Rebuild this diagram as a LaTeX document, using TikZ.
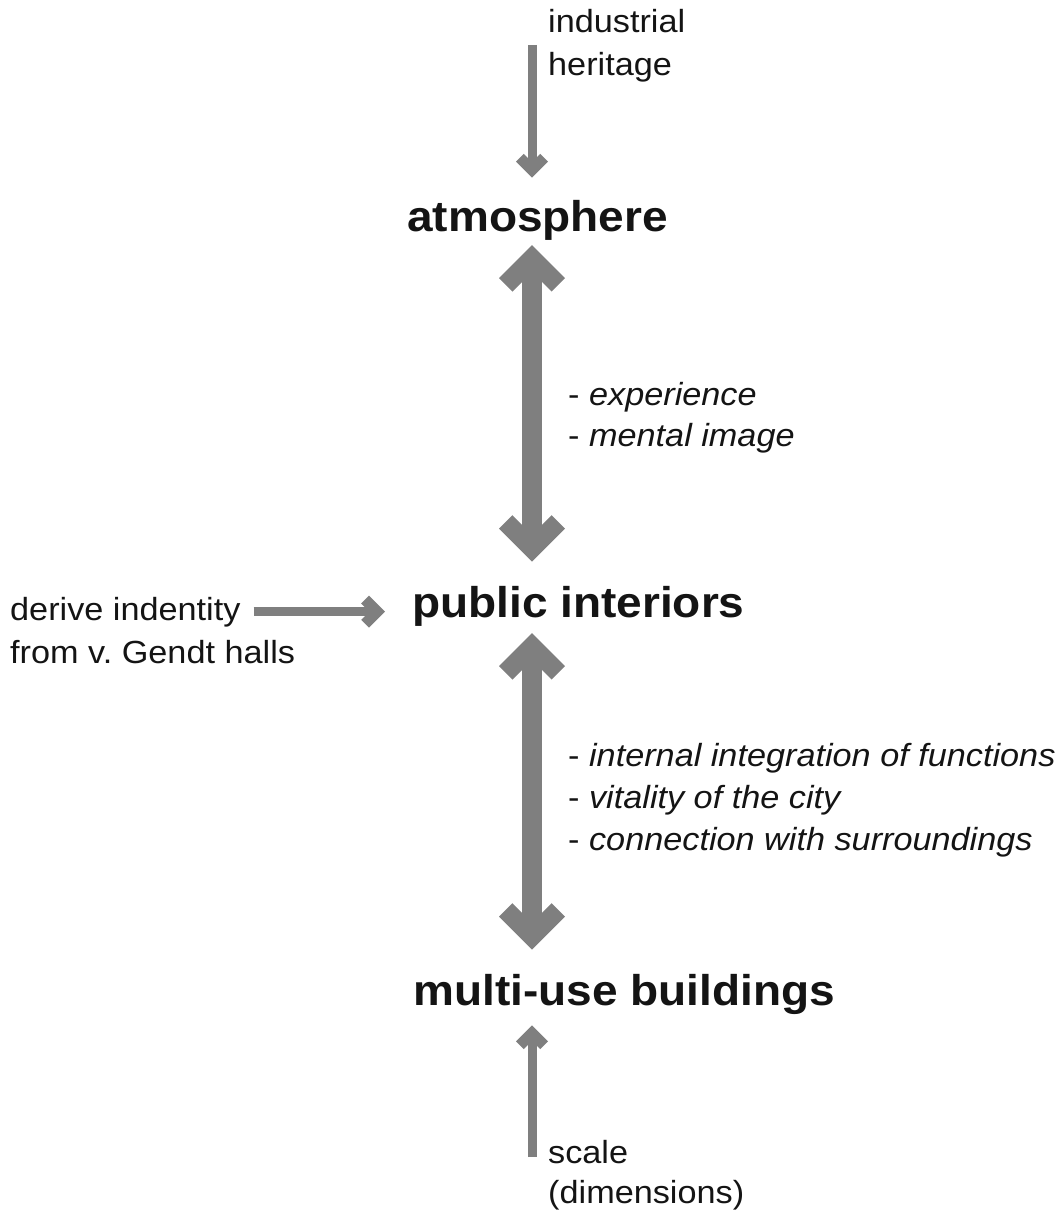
\documentclass[tikz,border=0pt]{standalone}
\usepackage{fontspec}
\setmainfont{Liberation Sans}[FakeStretch=1.07]
\usetikzlibrary{arrows.meta}
\definecolor{arrgray}{HTML}{7F7F7F}
\definecolor{txt}{HTML}{141414}
\pgfdeclarearrow{
  name = Chev,
  parameters = {\the\pgfarrowlength,\the\pgfarrowwidth},
  setup code = {
    \pgfarrowssettipend{0pt}
    \pgfarrowssetlineend{-1.2\pgfarrowwidth}
    \pgfarrowssavethe\pgfarrowlength
    \pgfarrowssavethe\pgfarrowwidth
  },
  drawing code = {
    \pgfpathmoveto{\pgfpointorigin}
    \pgfpathlineto{\pgfpoint{-\pgfarrowlength}{\pgfarrowlength}}
    \pgfpathlineto{\pgfpoint{-\pgfarrowlength-0.7071\pgfarrowwidth}{\pgfarrowlength-0.7071\pgfarrowwidth}}
    \pgfpathlineto{\pgfpoint{-1.4142\pgfarrowwidth}{0pt}}
    \pgfpathlineto{\pgfpoint{-\pgfarrowlength-0.7071\pgfarrowwidth}{-\pgfarrowlength+0.7071\pgfarrowwidth}}
    \pgfpathlineto{\pgfpoint{-\pgfarrowlength}{-\pgfarrowlength}}
    \pgfpathclose
    \pgfusepathqfill
  },
  defaults = {length=10pt, width=5pt}
}
\tikzset{
  bigtext/.style={anchor=base west, inner sep=0pt, text=txt, font=\fontsize{43}{50}\selectfont\bfseries},
  smalltext/.style={anchor=base west, inner sep=0pt, text=txt, font=\fontsize{32}{42}\selectfont},
  smallarr/.style={draw=arrgray, line width=9pt, -{Chev[length=16pt,width=11pt]}},
  bigarr/.style={draw=arrgray, line width=20pt, {Chev[length=33pt,width=19pt]}-{Chev[length=33pt,width=19pt]}}
}
\begin{document}
\begin{tikzpicture}[x=1pt,y=-1pt]
\useasboundingbox (0,0) rectangle (1060,1214);
% main nodes
\node[bigtext] (atm) at (407,232) {atmosphere};
\node[bigtext] (pub) at (412,617) {public interiors};
\node[bigtext] (mub) at (413,1005) {multi-use buildings};
% side labels
\node[smalltext] (ind1) at (548,33) {industrial};
\node[smalltext] (ind2) at (548,76) {heritage};
\node[smalltext] (der1) at (10,620) {derive indentity};
\node[smalltext] (der2) at (10,663) {from v.\ Gendt halls};
\node[smalltext] (sc1) at (548,1163) {scale};
\node[smalltext] (sc2) at (548,1203) {(dimensions)};
% arrow labels
\node[smalltext] (e1) at (568,405) {- \textit{experience}};
\node[smalltext] (e2) at (568,446) {- \textit{mental image}};
\node[smalltext] (f1) at (568,766) {- \textit{internal integration of functions}};
\node[smalltext] (f2) at (568,808) {- \textit{vitality of the city}};
\node[smalltext] (f3) at (568,850) {- \textit{connection with surroundings}};
% connectors
\coordinate (t1) at (532,45);
\coordinate (b1) at (532,1157);
\draw[smallarr, shorten >=23pt] (t1) -- (atm.north -| t1);
\draw[bigarr, shorten <=4pt, shorten >=24pt] (atm.south -| t1) -- (pub.north -| t1);
\draw[bigarr, shorten <=7pt, shorten >=24pt] (pub.south -| t1) -- (mub.north -| t1);
\draw[smallarr, shorten >=11pt] (b1) -- (mub.south -| b1);
\draw[smallarr, shorten <=13pt, shorten >=27pt] (der1.east) -- (der1.east -| pub.west);
\end{tikzpicture}
\end{document}
